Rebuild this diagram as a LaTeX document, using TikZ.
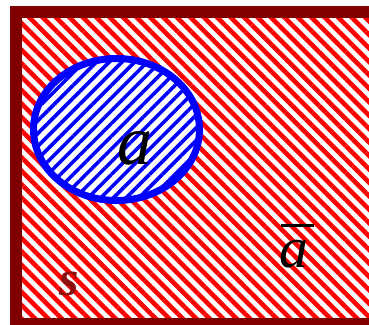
\documentclass[tikz,border=0pt]{standalone}
\usepackage{fontspec}
\setmainfont{Liberation Serif}
\usetikzlibrary{patterns.meta,shapes.geometric,positioning}
\definecolor{framered}{RGB}{128,0,0}
\definecolor{labelred}{RGB}{140,16,16}

\begin{document}
\begin{tikzpicture}[
  x=1pt, y=1pt,
  universe/.style={rectangle, draw=framered, line width=12pt, minimum width=380pt, minimum height=312pt, inner sep=0pt,
    preaction={fill=white}, pattern={Lines[angle=-45, distance=9.5pt, line width=4.6pt]}, pattern color=red},
  subset/.style={ellipse, draw=blue, line width=7pt, minimum width=166pt, minimum height=142pt, inner sep=0pt,
    preaction={fill=white}, pattern={Lines[angle=45, distance=9pt, line width=3.6pt]}, pattern color=blue},
  setlabel/.style={anchor=base, inner sep=0pt, font=\itshape}
]
  \useasboundingbox (0,0) rectangle (369,324);
  \clip (0,0) rectangle (369,324);

  \node[universe] (s) at (206,156) {};
  \node[subset] (a) at (116.5,194.5) {};

  \node[setlabel, font=\itshape\fontsize{70}{70}\selectfont] (alabel) at (135,159) {a};
  \node[setlabel, font=\itshape\fontsize{58}{58}\selectfont] (notalabel) at (294,57)
    {\makebox[0pt][l]{\hspace{1pt}\rule[40pt]{33pt}{3pt}}a};
  \node[setlabel, font=\bfseries\itshape\fontsize{50}{50}\selectfont, text=labelred] (slabel) at (69,29) {s};
\end{tikzpicture}
\end{document}
